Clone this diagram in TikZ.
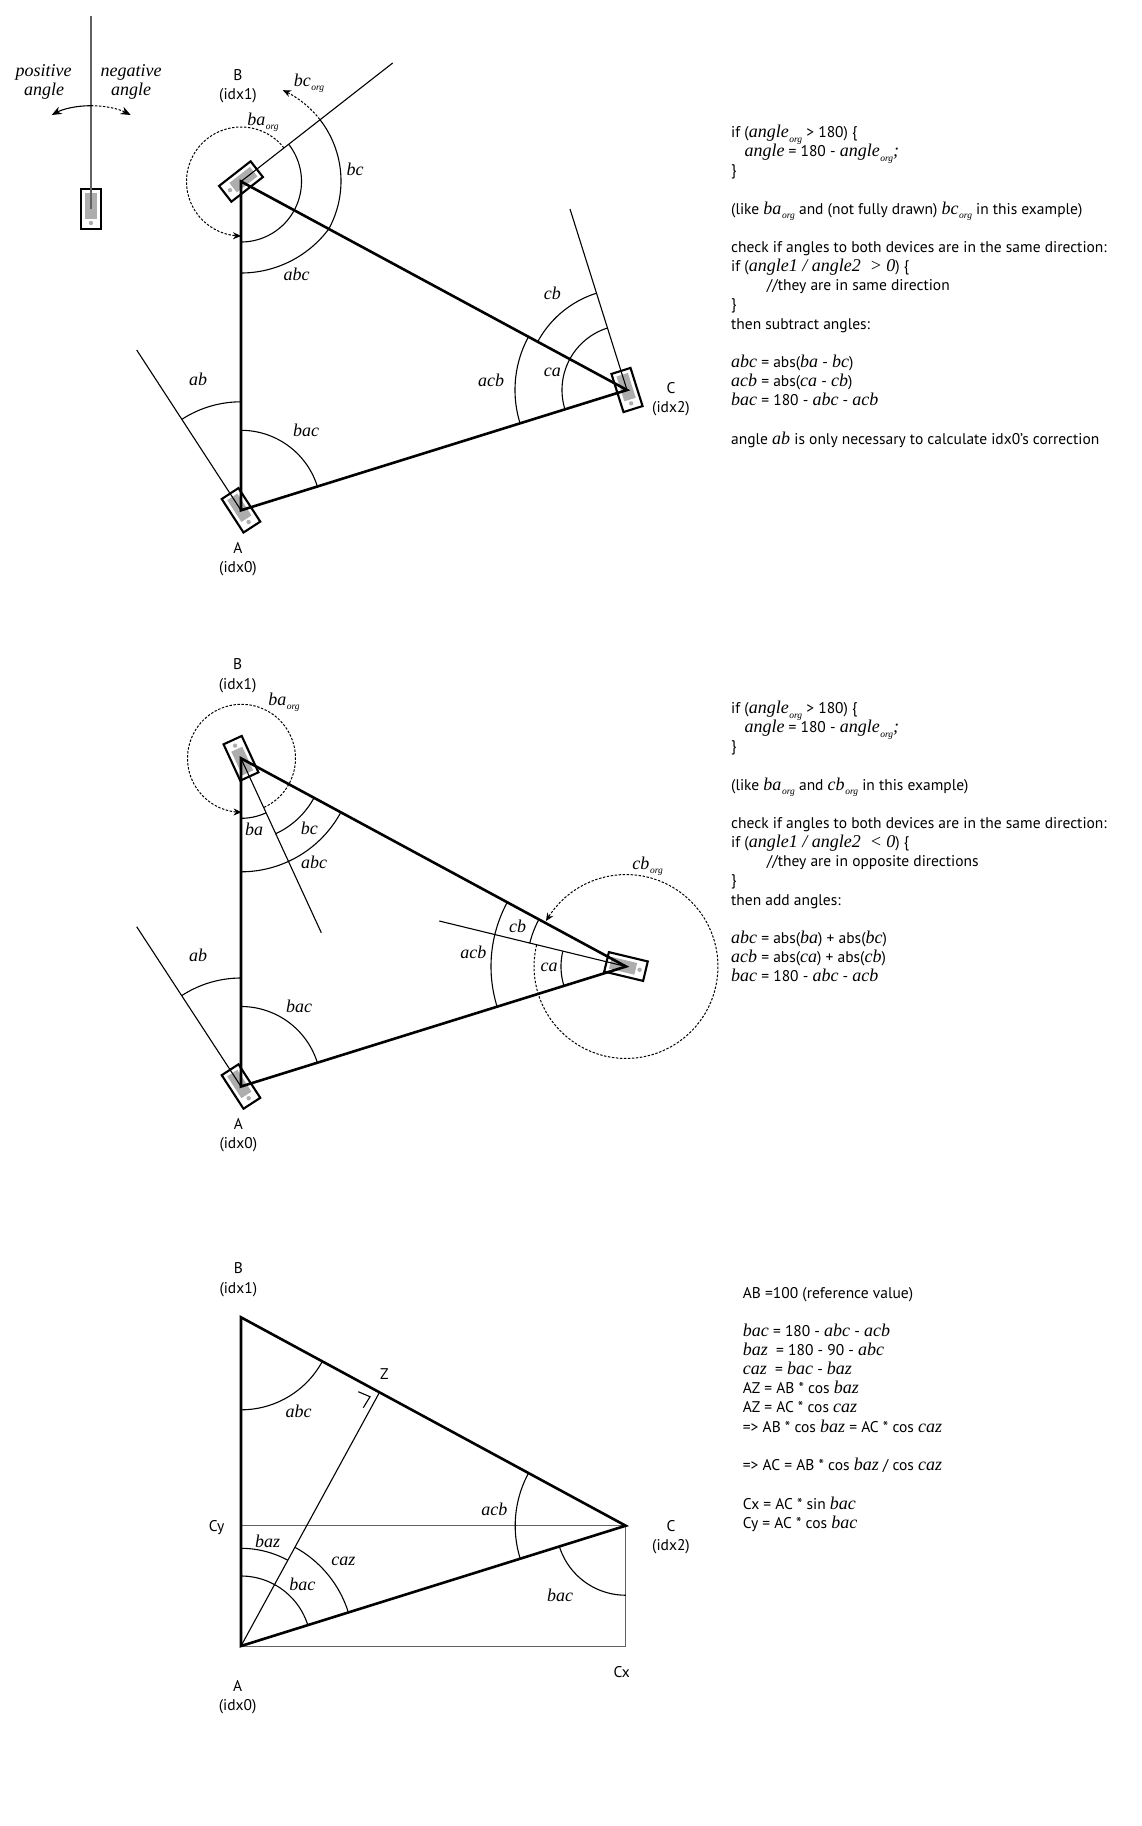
\documentclass[tikz,border=0pt]{standalone}
\usepackage{fontspec}
\setmainfont{PT Sans}
\newfontfamily\minion{Liberation Serif}
\usetikzlibrary{arrows.meta}
\newcommand\I[1]{{\minion\itshape\fontsize{18}{18}\selectfont #1}}
\newcommand\Sb[1]{\kern.6pt\raisebox{-4.5pt}{\minion\itshape\fontsize{9.5}{9.5}\selectfont #1}}
\tikzset{
  x=1pt,y=-1pt,
  tri/.style={line width=2.6pt,line join=miter,miter limit=10},
  ray/.style={line width=1.1pt},
  arcline/.style={line width=1.1pt},
  dots/.style={line width=1pt,dash pattern=on 2.4pt off 1.6pt},
  tip/.style={-{Stealth[length=8pt,width=7pt]}},
  bigtip/.style={-{Stealth[length=10pt,width=8pt]}},
  guide/.style={line width=1.5pt,draw=black!62},
  pframe/.style={line width=2.1pt},
  lab/.style={anchor=base,yshift=-5pt,inner sep=0pt,font=\minion\itshape\fontsize{18}{18}\selectfont},
  slab/.style={anchor=base,yshift=-5.5pt,inner sep=0pt,font=\fontsize{15.5}{15.5}\selectfont},
  tline/.style={anchor=base west,yshift=-5.8pt,inner sep=0pt,font=\fontsize{15.5}{15.5}\selectfont},
}
\newcommand\phone[4]{%
  \coordinate (#1) at (#2,#3);
  \begin{scope}[shift={(#2,#3)},rotate={0-(#4)}]
    \fill[black!32] (-6,-16) rectangle (6,10);
    \fill[black!32] (0,14) circle (2.2);
    \draw[pframe] (-10,-20) rectangle (10,20);
  \end{scope}}
\newcommand\angarc[6][arcline]{%
  \draw[#1] plot[samples=73,domain=#5:#6,variable=\tha] ({#2+#4*sin(\tha)},{#3-#4*cos(\tha)});}
\begin{document}
\begin{tikzpicture}
\fill[white] (0,0) rectangle (1142,1826);
\useasboundingbox (0,0) rectangle (1142,1826);

% ---------- legend ----------
\phone{P0}{91}{209}{0}
\coordinate (P0top) at (91,16);
\draw[guide] (P0top) -- (P0);
\coordinate (legL) at (51.7,115);
\coordinate (legM) at (91,105.7);
\coordinate (legR) at (130.7,115);
\draw[line width=1.1pt,bigtip] (legM) .. controls (76,105.7) and (63,109) .. (legL);
\draw[dots,bigtip] (legM) .. controls (106,105.7) and (119,109) .. (legR);
\node[lab] (lpos) at (43.5,71) {positive};
\node[lab] (lposb) at (44,90) {angle};
\node[lab] (lneg) at (131,71) {negative};
\node[lab] (lnegb) at (131,90) {angle};

% ---------- diagram 1 ----------
\phone{A1}{241}{510.3}{-33}
\phone{B1}{241}{181.5}{52}
\phone{C1}{627}{390}{-17.5}
\coordinate (A1r) at (136.7,350);
\coordinate (B1r) at (392.7,63);
\coordinate (C1r) at (570,209);
\draw[ray] (A1) -- (A1r);
\draw[ray] (B1) -- (B1r);
\draw[ray] (C1) -- (C1r);
\draw[tri] (A1) -- (B1) -- (C1) -- cycle;
\angarc{241}{510.3}{108.5}{-33}{0}
\angarc{241}{510.3}{80}{0}{72.7}
\angarc{241}{181.5}{60.5}{52}{180}
\angarc{241}{181}{100}{52}{119.4}
\angarc{241}{163.5}{109.5}{127.4}{180}
\angarc[dots,tip]{241}{181.5}{54.5}{52}{-180}
\angarc[dots,tip]{241}{181}{100}{52}{24.8}
\angarc{627}{390}{65}{-17.6}{-107.3}
\angarc{627}{390}{112}{-61.6}{-107.3}
\angarc{627}{390}{101.5}{-17.6}{-61.6}
\node[lab] (a1ab) at (198,380.7) {ab};
\node[lab] (a1bac) at (306,431) {bac};
\node[lab] (a1bc) at (355,170) {bc};
\node[lab] (a1abc) at (296.7,275) {abc};
\node[lab] (a1cb) at (552.3,294) {cb};
\node[lab] (a1ca) at (552.3,371) {ca};
\node[lab] (a1acb) at (491,381) {acb};
\node[lab] (a1bao) at (263,120) {ba\Sb{org}};
\node[lab] (a1bco) at (309,81) {bc\Sb{org}};
\node[slab] (n1B) at (238,75) {B};
\node[slab] (n1Bi) at (238,94.3) {(idx1)};
\node[slab] (n1A) at (238,548) {A};
\node[slab] (n1Ai) at (238,567) {(idx0)};
\node[slab] (n1C) at (671,388) {C};
\node[slab] (n1Ci) at (671,407) {(idx2)};

\node[tline] (t1a) at (731,131.7) {if (\I{angle}\Sb{org} > 180) \{};
\node[tline] (t1b) at (744.3,150.7) {\I{angle} = 180 - \I{angle}\Sb{org}\I{;}};
\node[tline] (t1c) at (731,170) {\}};
\node[tline] (t1d) at (731,208.3) {(like \I{ba}\Sb{org}\ and (not fully drawn) \I{bc}\Sb{org} in this example)};
\node[tline] (t1e) at (731,246.7) {check if angles to both devices are in the same direction:};
\node[tline] (t1f) at (731,265.7) {if (\I{angle1 / angle2\ \ > 0}) \{};
\node[tline] (t1g) at (766.7,285) {//they are in same direction};
\node[tline] (t1h) at (731,304) {\}};
\node[tline] (t1i) at (731,323.3) {then subtract angles:};
\node[tline] (t1j) at (731,361.7) {\I{abc} = abs(\I{ba} - \I{bc})};
\node[tline] (t1k) at (731,381) {\I{acb} = abs(\I{ca} - \I{cb})};
\node[tline] (t1l) at (731,400) {\I{bac} = 180 - \I{abc} - \I{acb}};
\node[tline] (t1m) at (731,439) {angle \I{ab} is only necessary to calculate idx0’s correction};

% ---------- diagram 2 ----------
\phone{A2}{241}{1086.5}{-33}
\phone{B2}{241}{758.3}{155.3}
\phone{C2}{626}{966.5}{-76.5}
\coordinate (A2r) at (136.7,926.7);
\coordinate (B2r) at (321.3,932.7);
\coordinate (C2r) at (439.3,921);
\draw[ray] (A2) -- (A2r);
\draw[ray] (B2) -- (B2r);
\draw[ray] (C2) -- (C2r);
\draw[tri] (A2) -- (B2) -- (C2) -- cycle;
\angarc{241}{1086.5}{108.5}{-33}{0}
\angarc{241}{1086.5}{80}{0}{72.7}
\angarc{241}{758.3}{60}{155.3}{180}
\angarc{241}{758.3}{83}{118.4}{155.3}
\angarc{241}{758.3}{113.5}{118.4}{180}
\angarc[dots,tip]{241.5}{758.3}{54}{155.3}{-180}
\angarc{626}{966.5}{65}{-76.5}{-107.3}
\angarc{626}{966.5}{99}{-61.6}{-76.5}
\angarc{626}{966.5}{135}{-61.6}{-107.3}
\angarc[dots,tip]{626}{966.5}{92}{-76.5}{-420.4}
\node[lab] (a2ab) at (198,956.7) {ab};
\node[lab] (a2bac) at (299,1007.3) {bac};
\node[lab] (a2ba) at (254,830) {ba};
\node[lab] (a2bc) at (309.3,829.3) {bc};
\node[lab] (a2abc) at (314,863.3) {abc};
\node[lab] (a2cb) at (517.7,927.3) {cb};
\node[lab] (a2ca) at (549,966) {ca};
\node[lab] (a2acb) at (473.3,953.3) {acb};
\node[lab] (a2bao) at (284,700) {ba\Sb{org}};
\node[lab] (a2cbo) at (647.7,864) {cb\Sb{org}};
\node[slab] (n2B) at (237.7,664.3) {B};
\node[slab] (n2Bi) at (237.7,684.3) {(idx1)};
\node[slab] (n2A) at (238.3,1124) {A};
\node[slab] (n2Ai) at (238.3,1143.3) {(idx0)};

\node[tline] (t2a) at (731,707.7) {if (\I{angle}\Sb{org} > 180) \{};
\node[tline] (t2b) at (744.3,726.7) {\I{angle} = 180 - \I{angle}\Sb{org}\I{;}};
\node[tline] (t2c) at (731,746) {\}};
\node[tline] (t2d) at (731,784.3) {(like \I{ba}\Sb{org}\ and \I{cb}\Sb{org} in this example)};
\node[tline] (t2e) at (731,822.7) {check if angles to both devices are in the same direction:};
\node[tline] (t2f) at (731,841.7) {if (\I{angle1 / angle2\ \ < 0}) \{};
\node[tline] (t2g) at (766.7,861) {//they are in opposite directions};
\node[tline] (t2h) at (731,880) {\}};
\node[tline] (t2i) at (731,899.3) {then add angles:};
\node[tline] (t2j) at (731,937.7) {\I{abc} = abs(\I{ba}) + abs(\I{bc})};
\node[tline] (t2k) at (731,957) {\I{acb} = abs(\I{ca}) + abs(\I{cb})};
\node[tline] (t2l) at (731,976) {\I{bac} = 180 - \I{abc} - \I{acb}};

% ---------- diagram 3 ----------
\coordinate (A3) at (241,1646);
\coordinate (B3) at (241,1317.3);
\coordinate (C3) at (625.7,1525.7);
\coordinate (Z3) at (379.3,1392.7);
\coordinate (Cy3) at (241,1525.7);
\coordinate (Cx3) at (625.7,1646.7);
\coordinate (A3b) at (241,1646.7);
\draw[guide] (Cy3) -- (C3);
\draw[guide] (C3) -- (Cx3) -- (A3b);
\draw[ray] (A3) -- (Z3);
\draw[tri] (A3) -- (B3) -- (C3) -- cycle;
\coordinate (rm1) at (358.3,1391.7);
\coordinate (rm2) at (370,1396.7);
\coordinate (rm3) at (363.3,1407.7);
\draw[ray] (rm1) -- (rm2) -- (rm3);
\angarc{241}{1317.3}{92.5}{118.4}{180}
\angarc{625.7}{1525.7}{110.5}{-61.6}{-107.3}
\angarc{625.7}{1525.7}{69.5}{-107.3}{-180}
\angarc{241}{1646}{97.7}{0}{28.6}
\angarc{241}{1646}{112.5}{28.6}{72.6}
\angarc{241}{1646}{70}{0}{72.6}
\node[lab] (a3baz) at (267.7,1542.7) {baz};
\node[lab] (a3caz) at (343.3,1560) {caz};
\node[lab] (a3bac) at (302.3,1585) {bac};
\node[lab] (a3abc) at (298.7,1412.3) {abc};
\node[lab] (a3acb) at (494.3,1510.7) {acb};
\node[lab] (a3bacb) at (560,1596) {bac};
\node[slab] (n3Cy) at (216.7,1526) {Cy};
\node[slab] (n3Z) at (384.3,1374) {Z};
\node[slab] (n3B) at (238.3,1268.3) {B};
\node[slab] (n3Bi) at (238.3,1287.7) {(idx1)};
\node[slab] (n3C) at (671,1525.7) {C};
\node[slab] (n3Ci) at (671,1545.3) {(idx2)};
\node[slab] (n3Cx) at (621.7,1671.7) {Cx};
\node[slab] (n3A) at (237.7,1685.8) {A};
\node[slab] (n3Ai) at (237.7,1705) {(idx0)};

\node[tline] (t3a) at (742.7,1292.3) {AB =100 (reference value)};
\node[tline] (t3b) at (742.7,1330.3) {\I{bac} = 180 - \I{abc} - \I{acb}};
\node[tline] (t3c) at (742.7,1349.3) {\I{baz}\ \ = 180 - 90 - \I{abc}};
\node[tline] (t3d) at (742.7,1368.7) {\I{caz}\ \ = \I{bac} - \I{baz}};
\node[tline] (t3e) at (742.7,1388) {AZ = AB * cos \I{baz}};
\node[tline] (t3f) at (742.7,1407) {AZ = AC * cos \I{caz}};
\node[tline] (t3g) at (742.7,1426.3) {=> AB * cos \I{baz} = AC * cos \I{caz}};
\node[tline] (t3h) at (742.7,1464.7) {=> AC = AB * cos \I{baz} / cos \I{caz}};
\node[tline] (t3i) at (742.7,1503.3) {Cx = AC * sin \I{bac}};
\node[tline] (t3j) at (742.7,1522.3) {Cy = AC * cos \I{bac}};
\end{tikzpicture}
\end{document}
